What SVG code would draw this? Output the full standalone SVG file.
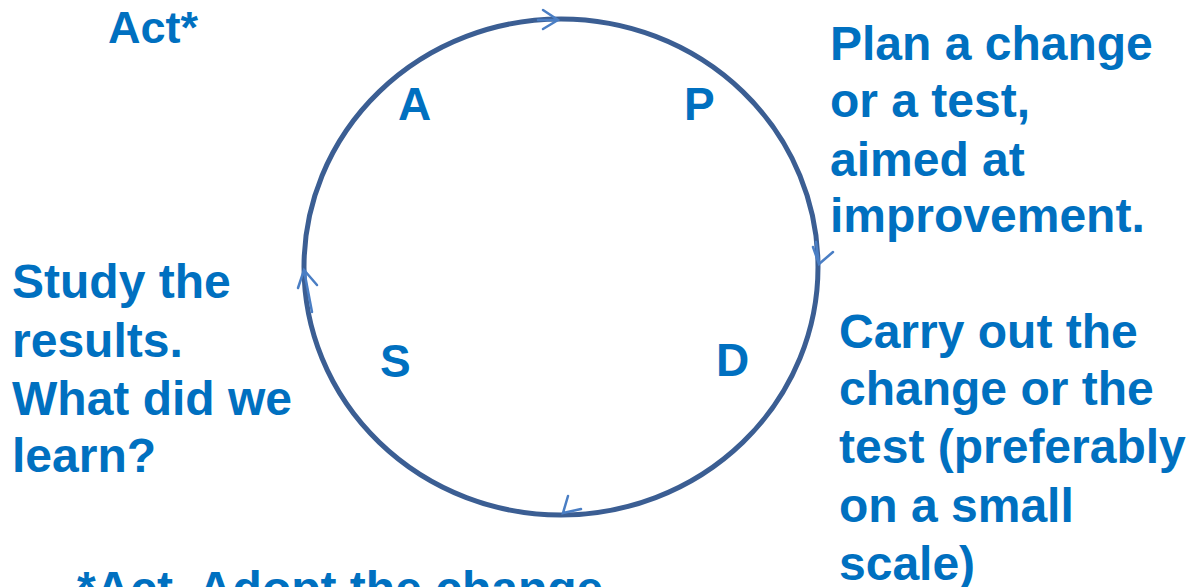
<svg xmlns="http://www.w3.org/2000/svg" width="1188" height="587" viewBox="0 0 1188 587">
<style>
.t{font-family:"Liberation Sans",Arial,sans-serif;font-weight:bold;fill:#0070c0;font-size:48px}
.l{font-family:"Liberation Sans",Arial,sans-serif;font-weight:bold;fill:#0070c0;font-size:46px}
.arr{stroke:#4a7ec4;stroke-width:2.5;fill:none;stroke-linecap:round}
</style>
<rect width="1188" height="587" fill="#ffffff"/>
<g id="cycle">
<ellipse cx="561" cy="267" rx="257" ry="248" fill="none" stroke="#3b5e93" stroke-width="5"/>
</g>
<g id="connectors">
<path class="arr" d="M538 20 L558 20 M543 10 L558 20 L543 29"/>
<path class="arr" d="M816 242 L819 264 M813 247 L819 264 L833 252"/>
<path class="arr" d="M312 312 L304 270 M298 288 L304 270 L317 285"/>
<path class="arr" d="M568 496 L563 513 L581 509"/>
</g>
<g id="act-label"><text class="t" x="108" y="43" style="font-size:45px">Act*</text></g>
<g id="A"><text class="l" x="398" y="120">A</text></g>
<g id="P"><text class="l" x="684" y="120">P</text></g>
<g id="S"><text class="l" x="380" y="377">S</text></g>
<g id="D"><text class="l" x="716" y="376">D</text></g>
<g id="plan">
<text class="t" x="830" y="60">Plan a change</text>
<text class="t" x="830" y="117">or a test,</text>
<text class="t" x="830" y="176">aimed at</text>
<text class="t" x="830" y="232">improvement.</text>
</g>
<g id="do">
<text class="t" x="839" y="348">Carry out the</text>
<text class="t" x="839" y="405">change or the</text>
<text class="t" x="839" y="463">test (preferably</text>
<text class="t" x="839" y="522">on a small</text>
<text class="t" x="839" y="580">scale)</text>
</g>
<g id="study">
<text class="t" x="12" y="298">Study the</text>
<text class="t" x="12" y="357">results.</text>
<text class="t" x="12" y="415">What did we</text>
<text class="t" x="12" y="472">learn?</text>
</g>
<g id="footnote"><text class="t" x="77" y="605">*Act. Adopt the change</text></g>
</svg>
